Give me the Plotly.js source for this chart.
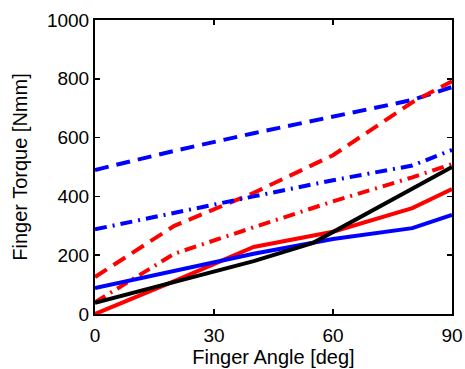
<!DOCTYPE html>
<html>
<head>
<meta charset="utf-8">
<script src="https://cdn.plot.ly/plotly-3.0.1.min.js"></script>
<style>html,body{margin:0;padding:0;background:#fff;}#chart{width:465px;height:369px;}</style>
</head>
<body>
<div id="chart"></div>
<script>
// Data
var angleStd = [0, 20, 40, 60, 80, 90];
var redSolid = [0, 112, 228, 280, 360, 425];
var blueSolid = [88, 147, 205, 255, 292, 337];
var blackAngle = [0, 20, 40, 55, 90];
var blackSolid = [38, 108, 180, 242, 500];
var blueDashed = [490, 555, 615, 670, 728, 772];
var redDashed = [126, 300, 412, 540, 720, 792];
var blueDashDot = [288, 345, 400, 455, 505, 558];
var redDashDot = [40, 205, 295, 383, 465, 510];
var xTicks = [0, 30, 60, 90];
var yTicks = [0, 200, 400, 600, 800, 1000];

var W = 4;
var DASH = '14px,8px';
var DASHDOT = '12px,6px,2px,6px';
function tr(x, y, color, dash) {
  return {x: x, y: y, type: 'scatter', mode: 'lines',
    line: {color: color, width: W, dash: dash}, hoverinfo: 'skip'};
}
var traces = [
  tr(angleStd, blueDashed, '#0000ff', DASH),
  tr(angleStd, redDashed, '#ff0000', DASH),
  tr(angleStd, blueDashDot, '#0000ff', DASHDOT),
  tr(angleStd, redDashDot, '#ff0000', DASHDOT),
  tr(angleStd, redSolid, '#ff0000', 'solid'),
  tr(angleStd, blueSolid, '#0000ff', 'solid'),
  tr(blackAngle, blackSolid, '#000000', 'solid')
];
var fam = 'Arial, "Liberation Sans", sans-serif';
var tickFont = {family: fam, size: 19, color: '#000'};
var titleFont = {family: fam, size: 20, color: '#000'};
var layout = {
  width: 465, height: 369,
  margin: {l: 95, r: 13, t: 20, b: 55},
  showlegend: false,
  paper_bgcolor: '#fff', plot_bgcolor: '#fff',
  font: tickFont,
  xaxis: {
    range: [0, 90], tickvals: xTicks, ticktext: xTicks.map(String),
    ticks: 'inside', ticklen: 5, tickwidth: 1.5, tickcolor: '#000',
    showline: true, linecolor: '#000', linewidth: 2, mirror: 'ticks',
    showgrid: false, zeroline: false, tickfont: tickFont, ticklabelstandoff: 3,
    title: {text: 'Finger Angle [deg]', font: titleFont, standoff: 3}
  },
  yaxis: {
    range: [0, 1000], tickvals: yTicks, ticktext: yTicks.map(String),
    ticks: 'inside', ticklen: 5, tickwidth: 1.5, tickcolor: '#000',
    showline: true, linecolor: '#000', linewidth: 2, mirror: 'ticks',
    showgrid: false, zeroline: false, tickfont: tickFont,
    title: {text: 'Finger Torque [Nmm]', font: titleFont, standoff: 14}
  }
};
Plotly.newPlot('chart', traces, layout, {staticPlot: true, displayModeBar: false});
</script>
</body>
</html>
